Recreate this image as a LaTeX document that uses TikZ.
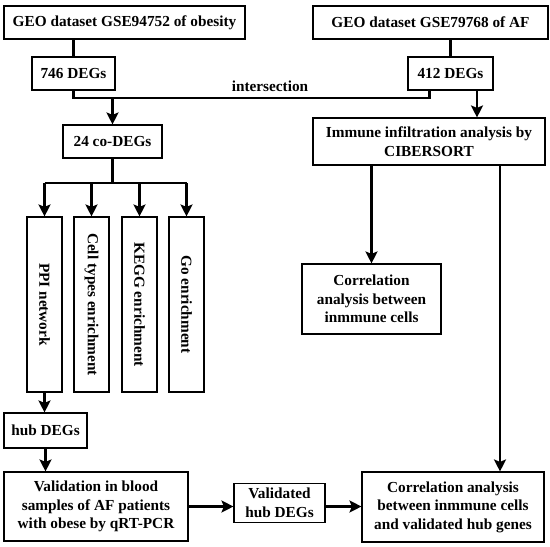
\documentclass[tikz,border=0pt]{standalone}
\usepackage{fontspec}
\setmainfont{Liberation Serif}
\usetikzlibrary{positioning, arrows.meta, calc}

\begin{document}
\begin{tikzpicture}[x=1pt,y=-1pt,
  font=\fontsize{15.3}{18.5}\selectfont\bfseries,
  bx/.style={draw, line width=1.1pt, align=center, inner sep=2pt},
  vbx/.style={bx, rotate=-90, minimum width=175pt, minimum height=35pt},
  ln/.style={line width=2.2pt},
  ar/.style={ln, -{Stealth[length=12pt,width=12pt,inset=2.5pt]}}]
\useasboundingbox (0,0) rectangle (550,547);

\node[bx,minimum width=241pt,minimum height=33pt](geo1) at (124.5,22.5){GEO dataset GSE94752 of obesity};
\node[bx,minimum width=235pt,minimum height=33pt](geo2) at (430.5,22.5){GEO dataset GSE79768 of AF};
\node[bx,minimum width=83pt,minimum height=33pt](deg1) at (73.5,73.5){746 DEGs};
\node[bx,minimum width=85pt,minimum height=33pt](deg2) at (450.5,73.5){412 DEGs};
\node[bx,minimum width=99pt,minimum height=33pt](codeg) at (112.5,141.5){24 co-DEGs};
\node[bx,minimum width=232pt,minimum height=47pt](immune) at (429,141.5){Immune infiltration analysis by\\CIBERSORT};

\node[vbx](ppi) at (44.5,304.5){PPI network};
\node[vbx](cell) at (91.5,304.5){Cell types enrichment};
\node[vbx](kegg) at (139.5,304.5){KEGG enrichment};
\node[vbx](goe) at (186.5,304.5){Go enrichment};

\node[bx,minimum width=83pt,minimum height=35pt](hub) at (45.5,430.5){hub DEGs};
\node[bx,minimum width=184pt,minimum height=69pt](valid) at (96,506.5){Validation in blood\\samples of AF patients\\with obese by qRT-PCR};
\node[bx,minimum width=91pt,minimum height=39pt](vhub) at (279.5,503){Validated\\hub DEGs};
\node[bx,minimum width=139pt,minimum height=70pt](corr1) at (371.5,299){Correlation\\analysis between\\inmmune cells};
\node[bx,minimum width=182pt,minimum height=70pt](corr2) at (453,507){Correlation analysis\\between inmmune cells\\and validated hub genes};

% datasets to DEG lists
\draw[ln](deg1.north)--(deg1.north |- geo1.south);
\draw[ln](deg2.north)--(deg2.north |- geo2.south);

% intersection
\coordinate(isec) at (270,98);
\node(isectxt) at (270,86){intersection};
\draw[ln](deg1.south) |- (isec) -| ([xshift=-21pt]deg2.south);
\draw[ar](isec -| codeg.north)--(codeg.north);
\draw[ar]([xshift=26.5pt]deg2.south)--([xshift=26.5pt]deg2.south |- immune.north);

% enrichment branches (rotated boxes: west is the top)
\coordinate(br) at (112.5,183);
\draw[ln](codeg.south)--(br);
\draw[ln](br -| ppi.west)--(br -| goe.west);
\foreach \b in {ppi,cell,kegg,goe}{
  \draw[ar](br -| \b.west)--(\b.west);}

\draw[ar](ppi.east)--(ppi.east |- hub.north);
\draw[ar](hub.south)--(hub.south |- valid.north);
\draw[ar](valid.east)--(valid.east -| vhub.west);
\draw[ar](vhub.east |- valid.east)--(corr2.west |- valid.east);

\draw[ar](immune.south -| corr1.north)--(corr1.north);
\draw[ar]([xshift=71pt]immune.south)--([xshift=71pt]immune.south |- corr2.north);

\end{tikzpicture}
\end{document}
